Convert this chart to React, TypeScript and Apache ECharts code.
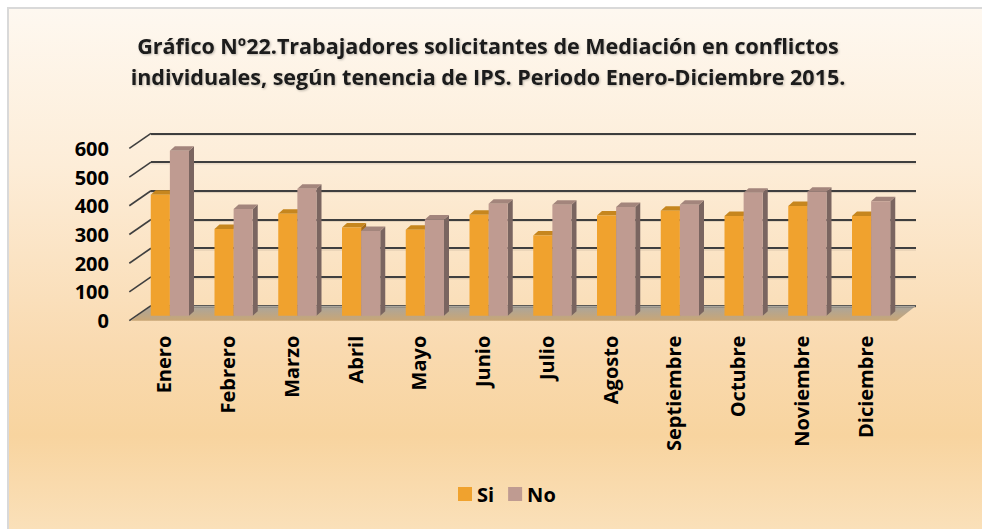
import React, { useEffect, useRef } from "react";
import * as echarts from "echarts";

const months = ["Enero", "Febrero", "Marzo", "Abril", "Mayo", "Junio", "Julio", "Agosto", "Septiembre", "Octubre", "Noviembre", "Diciembre"];
const siValues = [421, 302, 355, 307, 299, 351, 279, 349, 365, 347, 382, 347];
const noValues = [574, 371, 442, 295, 335, 390, 386, 378, 386, 428, 431, 398];
const yTicks = [0, 100, 200, 300, 400, 500, 600];
const seriesNames = ["Si", "No"];
const titleLines = [
  "Gráfico Nº22.Trabajadores solicitantes de Mediación en conflictos",
  "individuales, según tenencia de IPS. Periodo Enero-Diciembre 2015.",
];

const FONT = "'Open Sans', 'Noto Sans', sans-serif";
const palette = [
  { front: "#F0A22E", side: "#A86C16", top: "#C6861E" },
  { front: "#BF9B91", side: "#7A6560", top: "#A3857C" },
];

// 3D offsets (pixels)
const FRONT_DX = -13;
const FRONT_DY = 10;
const DEPTH_DX = 5;
const DEPTH_DY = -4.5;
const FLOOR_DX_L = -20;
const FLOOR_DX_R = -19;
const FLOOR_DY = 15;

function barSeries(s: number, values: number[]) {
  const c = palette[s];
  return {
    name: seriesNames[s],
    type: "custom",
    xAxisIndex: 0,
    yAxisIndex: 0,
    z: 10 + s,
    itemStyle: { color: c.front },
    data: values.map((v, i) => [i, v]),
    renderItem: (params: any, api: any) => {
      const i = api.value(0);
      const v = api.value(1);
      const top = api.coord([i, v]);
      const base = api.coord([i, 0]);
      const band = api.size([1, 0])[0];
      const w = band * 0.3;
      const fl = top[0] + FRONT_DX + (s - 1) * w;
      const fr = fl + w;
      const ft = top[1] + FRONT_DY;
      const fb = base[1] + FRONT_DY;
      return {
        type: "group",
        children: [
          {
            type: "polygon",
            shape: { points: [[fr, ft], [fr + DEPTH_DX, ft + DEPTH_DY], [fr + DEPTH_DX, fb + DEPTH_DY], [fr, fb]] },
            style: { fill: c.side },
          },
          {
            type: "polygon",
            shape: { points: [[fl, ft], [fl + DEPTH_DX, ft + DEPTH_DY], [fr + DEPTH_DX, ft + DEPTH_DY], [fr, ft]] },
            style: { fill: c.top },
          },
          {
            type: "rect",
            shape: { x: fl, y: ft, width: w, height: fb - ft },
            style: { fill: c.front },
          },
        ],
      };
    },
  };
}

export default function App() {
  const ref = useRef<HTMLDivElement>(null);
  useEffect(() => {
    if (!ref.current) return;
    const chart = echarts.init(ref.current, null, { renderer: "svg" });
    const option: any = {
      animation: false,
      backgroundColor: "transparent",
      title: {
        text: titleLines.join("\n"),
        left: 488,
        top: 30,
        padding: 0,
        textAlign: "center",
        textStyle: {
          fontFamily: FONT,
          fontWeight: "bold",
          fontSize: 21.5,
          lineHeight: 31,
          color: "#1a1a1a",
          textShadowColor: "rgba(0,0,0,0.25)",
          textShadowBlur: 2,
          textShadowOffsetX: 1,
          textShadowOffsetY: 1,
        },
      },
      legend: {
        data: seriesNames,
        left: 458,
        top: 484,
        padding: 0,
        itemWidth: 14,
        itemHeight: 14,
        itemGap: 14,
        icon: "rect",
        textStyle: { fontFamily: FONT, fontWeight: "bold", fontSize: 20, color: "#000" },
      },
      grid: [
        { left: 151, top: 133.3, width: 765, height: 172.4 },
        { left: 132, top: 148.3, width: 765, height: 172.4 },
      ],
      xAxis: [
        {
          type: "category",
          gridIndex: 0,
          data: months,
          axisLine: { show: false },
          axisTick: { show: false },
          axisLabel: { show: false },
        },
        {
          type: "category",
          gridIndex: 1,
          data: months,
          axisLine: { show: false },
          axisTick: { show: false },
          axisLabel: {
            rotate: 90,
            margin: 15,
            interval: 0,
            fontFamily: FONT,
            fontWeight: "bold",
            fontSize: 20,
            color: "#000",
          },
        },
      ],
      yAxis: [
        {
          type: "value",
          gridIndex: 0,
          min: 0,
          max: 600,
          interval: 100,
          axisLine: { show: false },
          axisTick: { show: false },
          axisLabel: { show: false },
          splitLine: {
            show: true,
            lineStyle: { color: "#3f3f3f", width: 2 },
          },
        },
        {
          type: "value",
          gridIndex: 1,
          min: 0,
          max: 600,
          interval: 100,
          axisLine: { show: false },
          axisTick: { show: false },
          splitLine: { show: false },
          axisLabel: {
            margin: 23,
            fontFamily: FONT,
            fontWeight: "bold",
            fontSize: 20,
            color: "#000",
          },
        },
      ],
      series: [
        {
          type: "custom",
          xAxisIndex: 0,
          yAxisIndex: 0,
          z: 1,
          silent: true,
          data: [[0, 0]],
          renderItem: (params: any, api: any) => {
            const cs = params.coordSys;
            const y0 = api.coord([0, 0])[1];
            const xl = cs.x;
            const xr = cs.x + cs.width;
            return {
              type: "polygon",
              shape: {
                points: [
                  [xl, y0],
                  [xr, y0],
                  [xr + FLOOR_DX_R, y0 + FLOOR_DY],
                  [xl + FLOOR_DX_L, y0 + FLOOR_DY],
                ],
              },
              style: {
                fill: new echarts.graphic.LinearGradient(0, 0, 0, 1, [
                  { offset: 0, color: "#a9a59e" },
                  { offset: 1, color: "#c9a675" },
                ]),
              },
            };
          },
        },
        {
          type: "custom",
          xAxisIndex: 0,
          yAxisIndex: 0,
          z: 2,
          silent: true,
          data: yTicks.map((t) => [0, t]),
          renderItem: (params: any, api: any) => {
            const cs = params.coordSys;
            const y = api.coord([0, api.value(1)])[1];
            const x = cs.x;
            return {
              type: "group",
              children: [
                {
                  type: "line",
                  shape: { x1: x, y1: y, x2: x + FLOOR_DX_L - 1.7, y2: y + FLOOR_DY },
                  style: { stroke: "#3f3f3f", lineWidth: 1.6 },
                },
                {
                  type: "line",
                  shape: { x1: x, y1: y + 1.8, x2: x + cs.width, y2: y + 1.8 },
                  style: { stroke: "rgba(0,0,0,0.12)", lineWidth: 1 },
                },
              ],
            };
          },
        },
        barSeries(0, siValues),
        barSeries(1, noValues),
      ],
    };
    chart.setOption(option);
    return () => chart.dispose();
  }, []);

  return (
    <div style={{ position: "absolute", left: 0, top: 0, width: 982, height: 529, background: "#fff", overflow: "hidden" }}>
      <div
        style={{
          position: "absolute",
          left: 7,
          top: 7,
          width: 975,
          height: 522,
          boxSizing: "border-box",
          borderLeft: "2px solid #d9d9d9",
          borderTop: "2px solid #d9d9d9",
          background: "linear-gradient(to bottom, #fef8f0 0%, #fdedd8 30%, #f9dab0 65%, #f8d49f 82%, #fae0b9 100%)",
        }}
      />
      <div ref={ref} style={{ position: "absolute", left: 0, top: 0, width: 982, height: 529 }} />
    </div>
  );
}
